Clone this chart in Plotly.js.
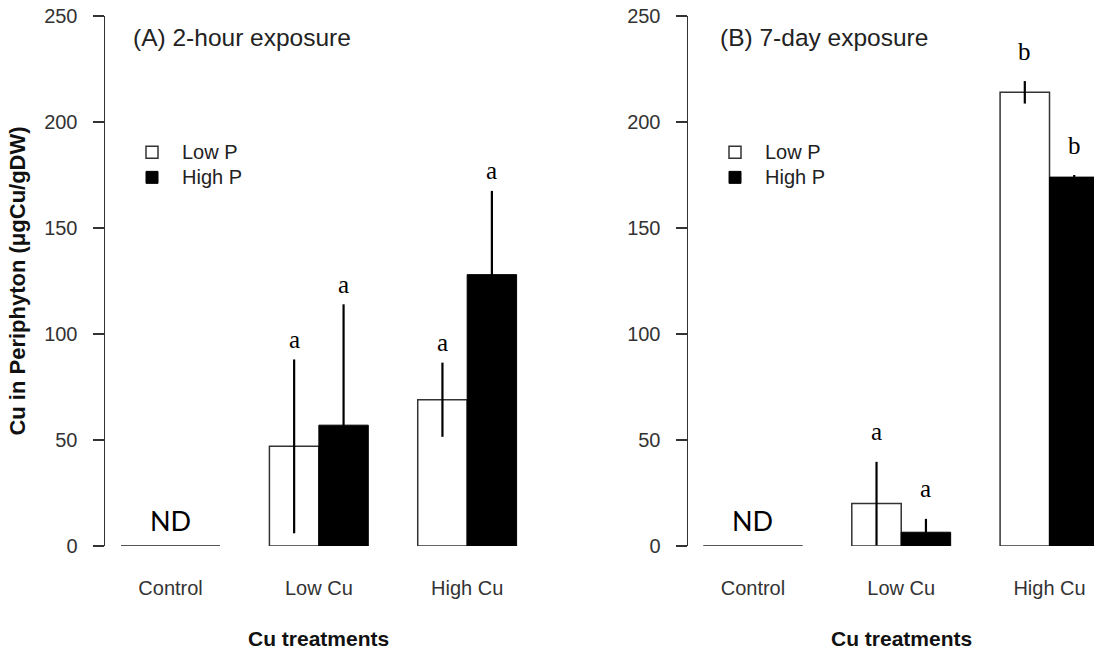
<!DOCTYPE html>
<html>
<head>
<meta charset="utf-8">
<script src="https://cdn.plot.ly/plotly-3.0.1.min.js"></script>
<style>
  html, body { margin: 0; padding: 0; background: #ffffff; }
  #chart { width: 1094px; height: 652px; }
</style>
</head>
<body>
<div id="chart"></div>
<script>
// ---------------- DATA ----------------
const categories = ['Control', 'Low Cu', 'High Cu'];
const seriesNames = ['Low P', 'High P'];
const panelTitles = ['(A) 2-hour exposure', '(B) 7-day exposure'];
const xAxisTitle = 'Cu treatments';
const yAxisTitle = 'Cu in Periphyton (\u03bcgCu/gDW)';
const yTicks = [0, 50, 100, 150, 200, 250];
const ndLabel = 'ND';

// (A) 2-hour exposure
const lowP_2h      = [0, 47, 69];
const lowP_2h_err  = [null, 41, 17.5];
const highP_2h     = [0, 57, 128];
const highP_2h_err = [null, 57, 39.5];
const lowP_2h_letters  = ['', 'a', 'a'];
const highP_2h_letters = ['', 'a', 'a'];

// (B) 7-day exposure
const lowP_7d      = [0, 20, 214];
const lowP_7d_err  = [null, 19.7, 5.3];
const highP_7d     = [0, 6.5, 174];
const highP_7d_err = [null, 6.3, 1];
const lowP_7d_letters  = ['', 'a', 'b'];
const highP_7d_letters = ['', 'a', 'b'];

// ---------------- STYLE ----------------
const SANS = 'Arial, "Liberation Sans", sans-serif';
const SERIF = '"Times New Roman", "Liberation Serif", serif';
const BARGAP = 1 / 3;
const groupW = 1 - BARGAP;
const xIdx = categories.map((c, i) => i);

const panels = [
  {x: 'x', y: 'y', legend: 'legend', low: lowP_2h, lowErr: lowP_2h_err, high: highP_2h, highErr: highP_2h_err,
   lowLet: lowP_2h_letters, highLet: highP_2h_letters, title: panelTitles[0], letShift: 20},
  {x: 'x2', y: 'y2', legend: 'legend2', low: lowP_7d, lowErr: lowP_7d_err, high: highP_7d, highErr: highP_7d_err,
   lowLet: lowP_7d_letters, highLet: highP_7d_letters, title: panelTitles[1], letShift: 30}
];

const legendLabel = s => '<span style="font-size:20px">' + s + '</span>';

const traces = [];
const annotations = [];

panels.forEach((p, pi) => {
  traces.push({
    type: 'bar', name: legendLabel(seriesNames[0]), x: xIdx, y: p.low, xaxis: p.x, yaxis: p.y, legend: p.legend,
    marker: {color: '#ffffff', line: {color: '#333333', width: 1.5}},
    error_y: {type: 'data', array: p.lowErr, visible: true, color: '#000000', thickness: 2.2, width: 0},
    cliponaxis: false, hoverinfo: 'x+y'
  });
  traces.push({
    type: 'bar', name: legendLabel(seriesNames[1]), x: xIdx, y: p.high, xaxis: p.x, yaxis: p.y, legend: p.legend,
    marker: {color: '#000000', line: {color: '#000000', width: 1}},
    error_y: {type: 'data', array: p.highErr, visible: true, color: '#000000', thickness: 2.2, width: 0},
    cliponaxis: false, hoverinfo: 'x+y'
  });

  // ND (not detected) baseline where both series are zero
  xIdx.forEach(i => {
    if (p.low[i] === 0 && p.high[i] === 0) {
      traces.push({
        type: 'scatter', mode: 'lines', x: [i - groupW / 2, i + groupW / 2], y: [p.low[i], p.high[i]],
        xaxis: p.x, yaxis: p.y, showlegend: false, hoverinfo: 'skip',
        line: {color: '#555555', width: 2}, cliponaxis: false
      });
      annotations.push({
        xref: p.x, yref: p.y, x: i, y: p.low[i], text: ndLabel, showarrow: false,
        yanchor: 'middle', yshift: 26, font: {family: 'Lato, "Noto Sans", sans-serif', size: 27, color: '#000'}
      });
    }
  });

  // significance letters
  xIdx.forEach(i => {
    if (p.lowLet[i]) {
      annotations.push({
        xref: p.x, yref: p.y, x: i - groupW / 4, y: p.low[i] + (p.lowErr[i] || 0),
        text: p.lowLet[i], showarrow: false, yanchor: 'middle', yshift: p.letShift,
        font: {family: SERIF, size: 25, color: '#000'}
      });
    }
    if (p.highLet[i]) {
      annotations.push({
        xref: p.x, yref: p.y, x: i + groupW / 4, y: p.high[i] + (p.highErr[i] || 0),
        text: p.highLet[i], showarrow: false, yanchor: 'middle', yshift: p.letShift,
        font: {family: SERIF, size: 25, color: '#000'}
      });
    }
  });

  // panel title
  annotations.push({
    xref: p.x + ' domain', yref: 'paper', x: pi === 0 ? 0.057 : 0.074, y: 0.9585,
    xanchor: 'left', yanchor: 'middle', text: p.title, showarrow: false,
    font: {family: SANS, size: 24.5, color: '#222'}
  });
  // x-axis title
  annotations.push({
    xref: p.x, yref: 'paper', x: 1, y: -0.1736, xanchor: 'center', yanchor: 'middle',
    text: '<b>' + xAxisTitle + '</b>', showarrow: false,
    font: {family: SANS, size: 21, color: '#111'}
  });
});

const yAxisBase = {
  range: [0, 250], tickvals: yTicks, ticktext: yTicks.map(String),
  showline: true, linecolor: '#333', linewidth: 1.5,
  ticks: 'outside', ticklen: 11, tickwidth: 1.5, tickcolor: '#333',
  ticklabelstandoff: 11,
  showgrid: false, zeroline: false, fixedrange: true,
  tickfont: {family: SANS, size: 20, color: '#333'}
};
const xAxisBase = {
  tickvals: xIdx, ticktext: categories,
  showline: false, ticks: '', showgrid: false, zeroline: false, fixedrange: true,
  ticklabelstandoff: 28,
  tickfont: {family: SANS, size: 20, color: '#333'}
};

const PLOT_W = 989;
const legendBase = {xanchor: 'left', yanchor: 'top', bgcolor: 'rgba(0,0,0,0)',
  itemwidth: 50, traceorder: 'normal', font: {family: SANS, size: 17, color: '#222'}};
const layout = {
  width: 1094, height: 652,
  margin: {l: 105, r: 0, t: 16, b: 106},
  paper_bgcolor: '#ffffff', plot_bgcolor: 'rgba(0,0,0,0)',
  barmode: 'group', bargap: BARGAP, bargroupgap: 0,
  showlegend: true,
  xaxis: Object.assign({}, xAxisBase, {domain: [0, 455 / PLOT_W], range: [-0.442, 2.626], anchor: 'y'}),
  xaxis2: Object.assign({}, xAxisBase, {domain: [583 / PLOT_W, 1], range: [-0.438, 2.300], anchor: 'y2'}),
  yaxis: Object.assign({}, yAxisBase, {anchor: 'x',
    title: {text: '<b>' + yAxisTitle + '</b>', standoff: 12, font: {family: SANS, size: 22, color: '#111'}}}),
  yaxis2: Object.assign({}, yAxisBase, {anchor: 'x2'}),
  legend: Object.assign({}, legendBase, {x: 17 / PLOT_W, y: 0.776}),
  legend2: Object.assign({}, legendBase, {x: 600 / PLOT_W, y: 0.776}),
  annotations: annotations
};

Plotly.newPlot('chart', traces, layout, {displayModeBar: false, staticPlot: true});
</script>
</body>
</html>
